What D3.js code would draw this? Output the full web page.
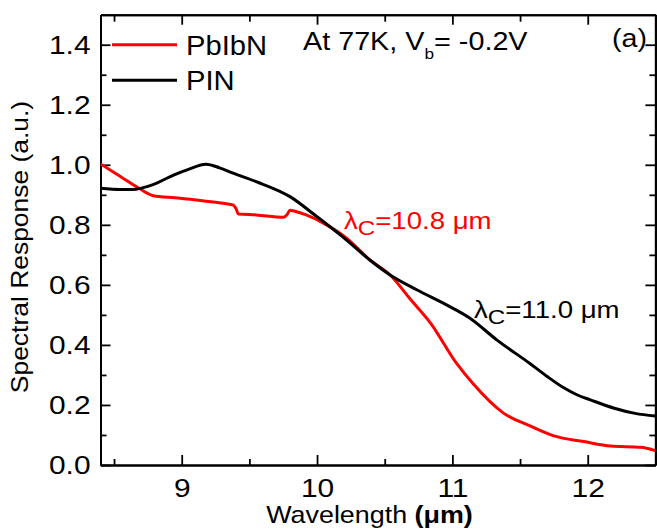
<!DOCTYPE html>
<html><head><meta charset="utf-8">
<script src="https://cdn.jsdelivr.net/npm/d3@7"></script>
<style>html,body{margin:0;padding:0;background:#fff;} svg{display:block;} text{font-family:"Liberation Sans",Arial,sans-serif;}</style>
</head><body>
<svg id="c" width="657" height="531"></svg>
<script>
const xTicks = [9, 10, 11, 12];
const yTicks = [0.0, 0.2, 0.4, 0.6, 0.8, 1.0, 1.2, 1.4];
const pbibnX = [8.40, 8.55, 8.69, 8.79, 8.95, 9.11, 9.25, 9.38, 9.40, 9.42, 9.55, 9.75, 9.78, 9.80, 9.83, 9.92, 10.05, 10.22, 10.39, 10.54, 10.69, 10.84, 11.03, 11.15, 11.38, 11.57, 11.75, 11.97, 12.17, 12.39, 12.5];
const pbibnY = [1.003, 0.96, 0.92, 0.897, 0.89, 0.883, 0.875, 0.866, 0.855, 0.836, 0.833, 0.825, 0.835, 0.849, 0.846, 0.833, 0.805, 0.755, 0.683, 0.633, 0.552, 0.472, 0.339, 0.272, 0.172, 0.131, 0.097, 0.078, 0.063, 0.059, 0.048];
const pinX = [8.40, 8.55, 8.64, 8.75, 8.82, 8.94, 9.05, 9.18, 9.28, 9.38, 9.55, 9.80, 10.0, 10.19, 10.39, 10.54, 10.74, 10.95, 11.13, 11.33, 11.57, 11.70, 11.82, 11.92, 12.02, 12.19, 12.35, 12.5];
const pinY = [0.922, 0.918, 0.918, 0.928, 0.94, 0.966, 0.985, 1.002, 0.99, 0.972, 0.944, 0.894, 0.827, 0.76, 0.683, 0.633, 0.583, 0.535, 0.489, 0.416, 0.339, 0.295, 0.258, 0.234, 0.217, 0.19, 0.172, 0.163];
const seriesNames = ["PbIbN", "PIN"];
const seriesColors = ["#ff0000", "#000000"];

const SX = 1.15;
function stretch(sel, sx) {
  sel.each(function () {
    const t = d3.select(this);
    const xv = +t.attr("x") || 0;
    t.attr("x", xv / sx).attr("transform", `scale(${sx},1)`);
  });
  return sel;
}

const svg = d3.select("#c");
const x = d3.scaleLinear().domain([8.4, 12.5]).range([100.5, 655.4]);
const y = d3.scaleLinear().domain([0, 1.5]).range([465, 14.7]);
const FS = 26;

const g = svg.append("g");
const xMinor = d3.range(8.5, 12.51, 0.5).filter(v => !xTicks.includes(v));
const yMinor = d3.range(0.1, 1.5, 0.2);
g.append("g").attr("class", "lab").attr("transform", `translate(0,${y(0)})`)
  .call(d3.axisBottom(x).tickValues(xTicks).tickFormat(d3.format("d")).tickSizeInner(-10).tickSizeOuter(0).tickPadding(14));
g.append("g").attr("transform", `translate(0,${y(1.5)})`)
  .call(d3.axisTop(x).tickValues(xTicks).tickFormat("").tickSizeInner(-10).tickSizeOuter(0));
g.append("g").attr("class", "lab").attr("transform", `translate(${x(8.4)},0)`)
  .call(d3.axisLeft(y).tickValues(yTicks).tickFormat(d3.format(".1f")).tickSizeInner(-10).tickSizeOuter(0).tickPadding(10));
g.append("g").attr("transform", `translate(${x(12.5)},0)`)
  .call(d3.axisRight(y).tickValues(yTicks).tickFormat("").tickSizeInner(-10).tickSizeOuter(0));
g.append("g").attr("transform", `translate(0,${y(0)})`)
  .call(d3.axisBottom(x).tickValues(xMinor).tickFormat("").tickSizeInner(-6).tickSizeOuter(0));
g.append("g").attr("transform", `translate(0,${y(1.5)})`)
  .call(d3.axisTop(x).tickValues(xMinor).tickFormat("").tickSizeInner(-7).tickSizeOuter(0));
g.append("g").attr("transform", `translate(${x(8.4)},0)`)
  .call(d3.axisLeft(y).tickValues(yMinor).tickFormat("").tickSizeInner(-6).tickSizeOuter(0));
g.append("g").attr("transform", `translate(${x(12.5)},0)`)
  .call(d3.axisRight(y).tickValues(yMinor).tickFormat("").tickSizeInner(-6).tickSizeOuter(0));
g.selectAll(".domain").attr("stroke", "#000").attr("stroke-width", 2);
g.selectAll(".tick line").attr("stroke", "#000").attr("stroke-width", 1.8);
g.selectAll(".tick text").attr("font-size", FS).attr("fill", "#000").attr("font-family", "Liberation Sans, Arial, sans-serif");
stretch(g.selectAll(".lab .tick text"), SX);

const line = d3.line().x(d => x(d[0])).y(d => y(d[1])).curve(d3.curveMonotoneX);
const series = [d3.zip(pbibnX, pbibnY), d3.zip(pinX, pinY)];
svg.append("clipPath").attr("id", "clp").append("rect")
  .attr("x", x(8.4)).attr("y", y(1.5)).attr("width", x(12.5) - x(8.4)).attr("height", y(0) - y(1.5));
[0, 1].forEach(i => {
  svg.append("path").datum(series[i]).attr("d", line).attr("fill", "none")
    .attr("stroke", seriesColors[i]).attr("stroke-width", 3).attr("clip-path", "url(#clp)");
});

seriesNames.forEach((n, i) => {
  const ly = y(1.4) + i * 35.5;
  svg.append("line").attr("x1", 112).attr("x2", 177).attr("y1", ly).attr("y2", ly)
    .attr("stroke", seriesColors[i]).attr("stroke-width", 3);
  const t = svg.append("text").attr("x", 186).attr("y", ly + 10).attr("font-size", 27).text(n);
  stretch(t, 1.08);
});

const t1 = svg.append("text").attr("x", 303).attr("y", 50).attr("font-size", 25);
t1.append("tspan").text("At 77K, V");
t1.append("tspan").attr("font-size", 15).attr("dy", 9).text("b");
t1.append("tspan").attr("dy", -9).text("= -0.2V");
stretch(t1, SX);
stretch(svg.append("text").attr("x", 612).attr("y", 47).attr("font-size", FS).text("(a)"), 1.1);

function lam(xp, yp, val, color) {
  const t = svg.append("text").attr("x", xp).attr("y", yp).attr("font-size", 24).attr("fill", color);
  t.append("tspan").text("λ");
  t.append("tspan").attr("dy", 6).attr("font-size", 21).text("C");
  t.append("tspan").attr("dy", -6).text("=" + val + " μm");
  stretch(t, SX);
}
lam(344, 229, "10.8", "#ff0000");
lam(474, 318, "11.0", "#000000");

const xt = svg.append("text").attr("x", 369.5).attr("y", 523).attr("text-anchor", "middle").attr("font-size", 24);
xt.append("tspan").text("Wavelength ");
xt.append("tspan").attr("font-weight", "bold").text("(μm)");
stretch(xt, 1.12);
svg.append("text").attr("transform", `translate(28,247) rotate(-90) scale(${SX},1)`).attr("text-anchor", "middle")
  .attr("font-size", 23).text("Spectral Response (a.u.)");
</script>
</body></html>
